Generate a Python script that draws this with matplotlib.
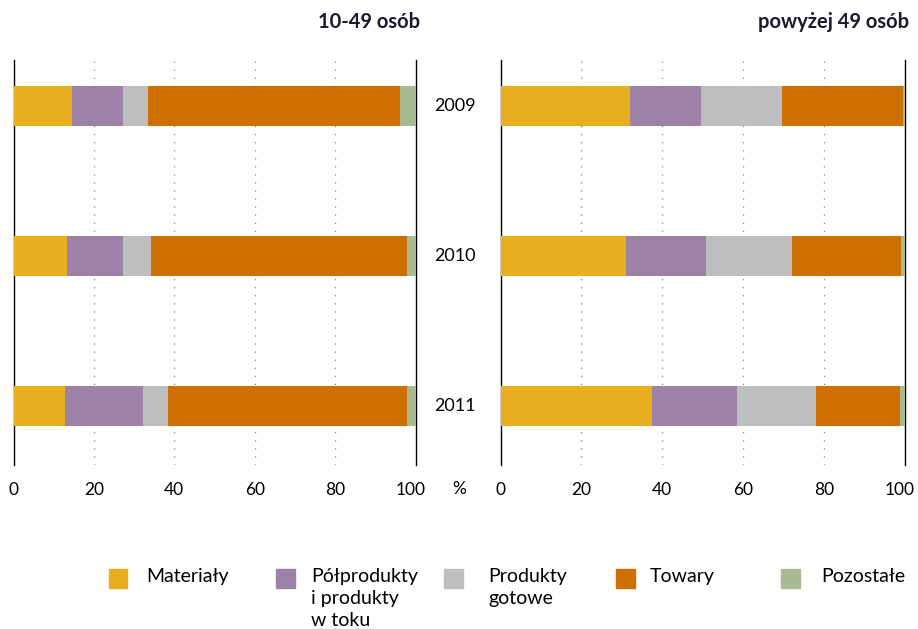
import matplotlib.pyplot as plt
from matplotlib.patches import Rectangle
from matplotlib.transforms import blended_transform_factory, ScaledTranslation

plt.rcParams['font.family'] = ['Lato', 'DejaVu Sans']

years = ['2009', '2010', '2011']
categories = ['Materiały', 'Półprodukty\ni produkty\nw toku', 'Produkty\ngotowe', 'Towary', 'Pozostałe']
colors = ['#E9AE20', '#9E81A6', '#BDBEC0', '#CE7000', '#A7BA91']

# shares (%) per year, 10-49 employees
small_materialy = [14.6, 13.3, 12.8]
small_polprodukty = [12.7, 14.0, 19.4]
small_gotowe = [6.2, 6.9, 6.2]
small_towary = [62.6, 63.7, 59.5]
small_pozostale = [3.9, 2.1, 2.1]

# shares (%) per year, above 49 employees
big_materialy = [32.0, 31.0, 37.4]
big_polprodukty = [17.5, 19.8, 21.1]
big_gotowe = [20.1, 21.3, 19.5]
big_towary = [29.9, 26.9, 20.8]
big_pozostale = [0.5, 1.0, 1.2]

small = [small_materialy, small_polprodukty, small_gotowe, small_towary, small_pozostale]
big = [big_materialy, big_polprodukty, big_gotowe, big_towary, big_pozostale]

W, H = 918, 629
fig = plt.figure(figsize=(W / 100, H / 100), dpi=100)

ax_top, ax_bot = 60, 465
ax1 = fig.add_axes([13.5 / W, 1 - ax_bot / H, 402 / W, (ax_bot - ax_top) / H])
ax2 = fig.add_axes([500.7 / W, 1 - ax_bot / H, 404 / W, (ax_bot - ax_top) / H])

ypos = list(range(len(years)))

for ax, data, title in [(ax1, small, '10-49 osób'), (ax2, big, 'powyżej 49 osób')]:
    left = [0.0] * len(years)
    for vals, col in zip(data, colors):
        ax.barh(ypos, vals, left=left, height=0.267, color=col, zorder=3)
        left = [l + v for l, v in zip(left, vals)]
    ax.set_xlim(0, 100)
    ax.set_ylim(2.393, -0.307)
    ax.set_xticks([0, 20, 40, 60, 80, 100])
    ax.set_yticks([])
    ax.tick_params(axis='x', length=0, pad=12, labelsize=12.5)
    # the "100" label sits a bit left of the axis end, as in the original
    lab100 = ax.get_xticklabels()[-1]
    lab100.set_transform(lab100.get_transform() + ScaledTranslation(-5 / 100, 0, fig.dpi_scale_trans))
    for x in [20, 40, 60, 80]:
        ax.axvline(x, color='#7f7f7f', lw=1, ls=(0, (0.8, 5)), zorder=1)
    for s in ['top', 'bottom']:
        ax.spines[s].set_visible(False)
    for s in ['left', 'right']:
        ax.spines[s].set_color('black')
        ax.spines[s].set_linewidth(1)
    ax.text(1.012, 1.0 + 38 / (ax_bot - ax_top), title, transform=ax.transAxes,
            ha='right', va='center', fontsize=14.5, fontweight='bold', color='#1a1a2e')

# year labels between panels
tr = blended_transform_factory(ax1.transAxes, ax1.transData)
for y, yr in zip(ypos, years):
    ax1.text((455 - 13.5) / 402, y, yr, transform=tr, ha='center', va='center', fontsize=13)

fig.text(459.5 / W, 1 - 489 / H, '%', ha='center', va='center', fontsize=12.5)

# legend
sq_x = [108.5, 276, 444, 616, 781]
txt_x = [146.5, 311, 488, 650, 821]
for x, tx, col, lab in zip(sq_x, txt_x, colors, categories):
    fig.add_artist(Rectangle((x / W, 1 - 588 / H), 18.5 / W, 19 / H,
                             transform=fig.transFigure, color=col))
    fig.text(tx / W, 1 - 568 / H, lab, ha='left', va='top', fontsize=14, linespacing=1.36)

fig.savefig('out.png', dpi=100)
